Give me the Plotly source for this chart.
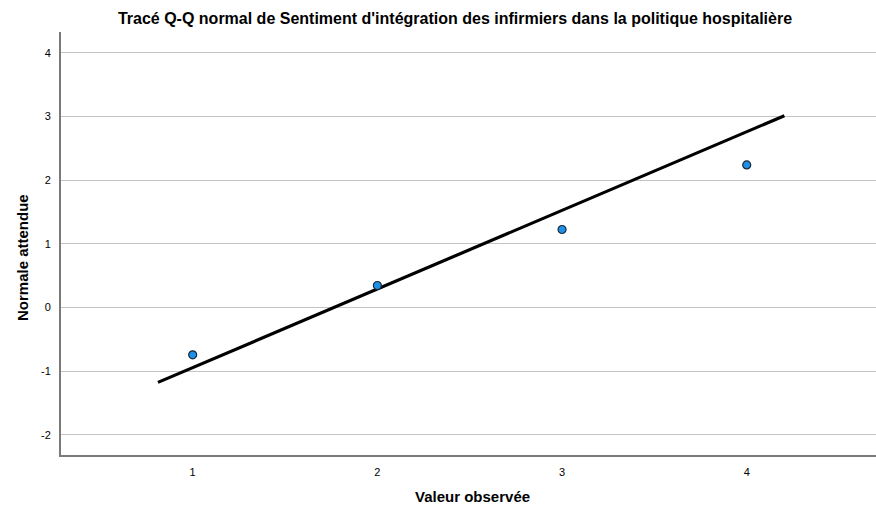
import plotly.graph_objects as go

# Data
observed = [1, 2, 3, 4]
expected_normal = [-0.745, 0.345, 1.225, 2.24]
line_x = [0.812, 4.204]
slope = 1.236
intercept = -2.182
x_ticks = [1, 2, 3, 4]
y_ticks = [-2, -1, 0, 1, 2, 3, 4]

line_y = [intercept + slope * v for v in line_x]

L, R, T, B = 61, 876, 32, 455
W, H = 876, 508

def px(x):
    return (x - L) / (R - L)

def py(y):
    return (B - y) / (B - T)

fig = go.Figure()
fig.add_trace(go.Scatter(
    x=line_x, y=line_y, mode="lines",
    line=dict(color="black", width=3.2), hoverinfo="skip", showlegend=False))
fig.add_trace(go.Scatter(
    x=observed, y=expected_normal, mode="markers",
    marker=dict(color="#1e90e8", size=8, line=dict(color="#1a2838", width=1.2)),
    showlegend=False))

fig.update_layout(
    width=W, height=H,
    margin=dict(l=L, r=W - R, t=T, b=H - B, autoexpand=False),
    paper_bgcolor="white", plot_bgcolor="white",
    font=dict(family="Liberation Sans, Arial, sans-serif", color="black"),
    title=dict(
        text="<b>Tracé Q-Q normal de Sentiment d'intégration des infirmiers dans la politique hospitalière</b>",
        x=455 / W, xanchor="center", xref="container",
        y=1 - 18 / H, yanchor="middle", yref="container",
        font=dict(size=16)),
    xaxis=dict(
        range=[0.287, 4.70], tickvals=x_ticks, ticktext=[str(v) for v in x_ticks],
        showgrid=False, zeroline=False, showline=True, linecolor="#7a7a7a", linewidth=2,
        ticks="", tickfont=dict(size=11, color="black"), ticklabelstandoff=6, automargin=False),
    yaxis=dict(
        range=[-2.32, 4.33], tickvals=y_ticks, ticktext=[str(v) for v in y_ticks],
        showgrid=True, gridcolor="#c4c4c4", gridwidth=1, zeroline=False,
        showline=True, linecolor="#7a7a7a", linewidth=2,
        ticks="", tickfont=dict(size=11, color="black"), ticklabelstandoff=6, automargin=False),
    annotations=[
        dict(text="<b>Normale attendue</b>", xref="paper", yref="paper",
             x=px(22), y=py(258), xanchor="center", yanchor="middle",
             textangle=-90, showarrow=False, font=dict(size=15)),
        dict(text="<b>Valeur observée</b>", xref="paper", yref="paper",
             x=px(472), y=py(497), xanchor="center", yanchor="middle",
             showarrow=False, font=dict(size=15)),
    ],
)

fig.write_html("out.html", config={"displayModeBar": False},
               post_script="document.body.style.margin='0';document.body.style.overflow='hidden';")
